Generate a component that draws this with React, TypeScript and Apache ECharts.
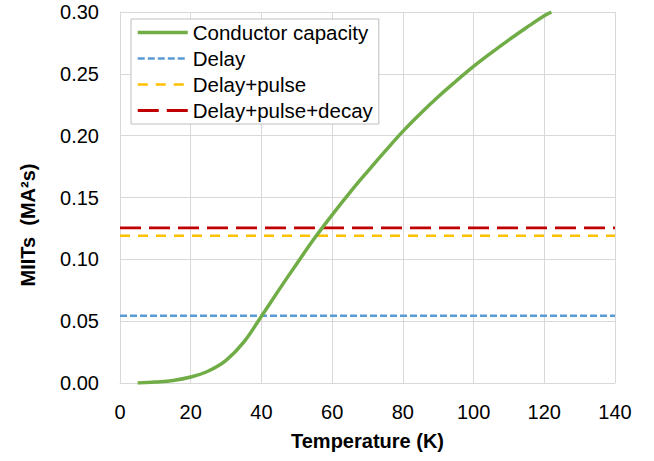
import React, { useEffect, useRef } from "react";
import * as echarts from "echarts";

const temperatureK = [5, 10, 15, 20, 25, 30, 35, 40, 45, 50, 55, 60, 65, 70, 75, 80, 85, 90, 95, 100, 105, 110, 115, 120, 122];
const conductorCapacity = [0, 0.0008, 0.002, 0.0048, 0.0097, 0.0183, 0.033, 0.054, 0.0755, 0.0965, 0.117, 0.136, 0.154, 0.171, 0.1875, 0.2035, 0.218, 0.2315, 0.244, 0.256, 0.267, 0.2775, 0.2875, 0.297, 0.3];
const lineRangeK = [0, 140];
const delayMiits = 0.0543;
const delayPulseMiits = 0.119;
const delayPulseDecayMiits = 0.1254;
const seriesNames = ["Conductor capacity", "Delay", "Delay+pulse", "Delay+pulse+decay"];

const FONT = "'Liberation Sans', Arial, sans-serif";

export default function App() {
  const ref = useRef<HTMLDivElement>(null);
  useEffect(() => {
    if (!ref.current) return;
    const chart = echarts.init(ref.current, undefined, { renderer: "svg" });
    const flat = (v: number) => lineRangeK.map((k) => [k, v]);
    const legendWidths = [3.5, 2.5, 2.5, 2.8];
    chart.setOption({
      animation: false,
      backgroundColor: "#ffffff",
      textStyle: { fontFamily: FONT },
      grid: { left: 120, right: 39, top: 12, bottom: 78, containLabel: false },
      legend: {
        left: 131,
        top: 19,
        orient: "vertical",
        backgroundColor: "#ffffff",
        borderColor: "#bfbfbf",
        borderWidth: 1,
        padding: [3, 6, 3, 5],
        itemWidth: 50,
        itemHeight: 20,
        itemGap: 5,
        itemStyle: { opacity: 0 },
        textStyle: { fontSize: 20.5, color: "#000", fontFamily: FONT, padding: [0, 0, 0, 0] },
        data: seriesNames.map((n, i) => ({ name: n, lineStyle: { width: legendWidths[i] } })),
      },
      xAxis: {
        type: "value",
        min: 0,
        max: 140,
        interval: 20,
        name: "Temperature (K)",
        nameLocation: "middle",
        nameGap: 48,
        nameTextStyle: { fontSize: 20, fontWeight: "bold", color: "#000", fontFamily: FONT },
        axisLine: { show: true, lineStyle: { color: "#d9d9d9", width: 1 } },
        axisTick: { show: false },
        axisLabel: { fontSize: 20, color: "#000", margin: 19, fontFamily: FONT },
        splitLine: { show: true, lineStyle: { color: "#d9d9d9", width: 1 } },
      },
      yAxis: {
        type: "value",
        min: 0,
        max: 0.3,
        interval: 0.05,
        axisLine: { show: true, lineStyle: { color: "#d9d9d9", width: 1 } },
        axisTick: { show: false },
        axisLabel: {
          fontSize: 20,
          color: "#000",
          margin: 21,
          fontFamily: FONT,
          formatter: (v: number) => v.toFixed(2),
        },
        splitLine: { show: true, lineStyle: { color: "#d9d9d9", width: 1 } },
      },
      graphic: [
        {
          type: "text",
          x: 28,
          y: 225,
          rotation: Math.PI / 2,
          style: {
            text: "MIITs  (MA²s)",
            fontSize: 20,
            fontWeight: "bold",
            fontFamily: FONT,
            fill: "#000",
            align: "center",
            verticalAlign: "middle",
          },
        },
      ],
      series: [
        {
          name: seriesNames[0],
          type: "line",
          data: temperatureK.map((k, i) => [k, conductorCapacity[i]]),
          smooth: 0.4,
          symbol: "none",
          lineStyle: { color: "#70AD47", width: 3.5 },
          itemStyle: { color: "#70AD47" },
          z: 5,
        },
        {
          name: seriesNames[1],
          type: "line",
          data: flat(delayMiits),
          symbol: "none",
          lineStyle: { color: "#5B9BD5", width: 2.5, type: [7, 3] },
          itemStyle: { color: "#5B9BD5" },
        },
        {
          name: seriesNames[2],
          type: "line",
          data: flat(delayPulseMiits),
          symbol: "none",
          lineStyle: { color: "#FFC000", width: 2.5, type: [10, 8] },
          itemStyle: { color: "#FFC000" },
        },
        {
          name: seriesNames[3],
          type: "line",
          data: flat(delayPulseDecayMiits),
          symbol: "none",
          lineStyle: { color: "#C00000", width: 2.8, type: [21, 8] },
          itemStyle: { color: "#C00000" },
        },
      ],
    });
    return () => chart.dispose();
  }, []);
  return <div ref={ref} style={{ position: "absolute", left: 0, top: 0, width: 654, height: 461 }} />;
}
